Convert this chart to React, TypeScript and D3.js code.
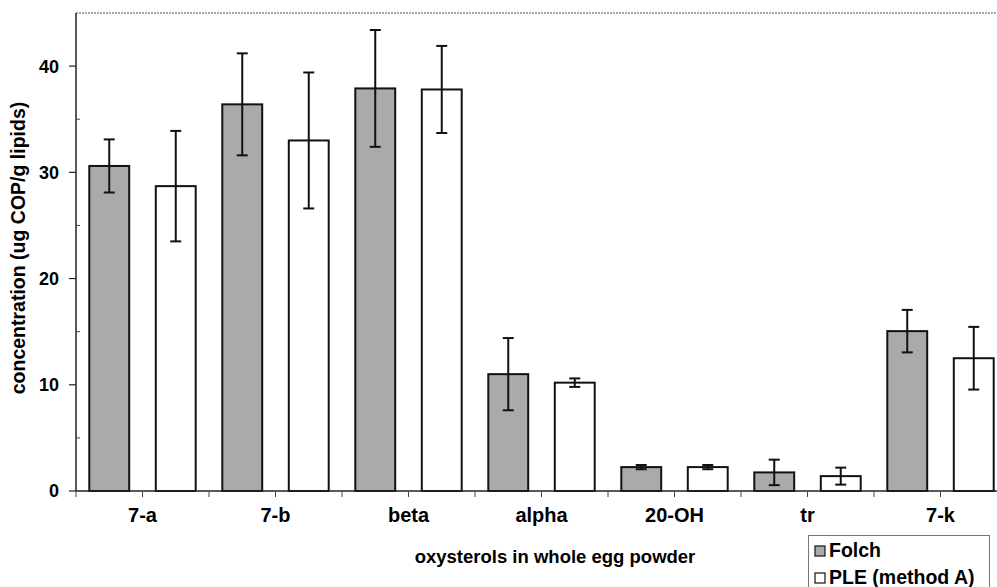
import React from 'react';
import * as d3 from 'd3';

const categories = ['7-a', '7-b', 'beta', 'alpha', '20-OH', 'tr', '7-k'];
const seriesNames = ['Folch', 'PLE (method A)'];
const folchValues = [30.6, 36.4, 37.9, 11.0, 2.25, 1.75, 15.05];
const folchErrors = [2.5, 4.8, 5.5, 3.4, 0.2, 1.2, 2.0];
const pleValues = [28.7, 33.0, 37.8, 10.2, 2.25, 1.4, 12.5];
const pleErrors = [5.2, 6.4, 4.1, 0.4, 0.2, 0.8, 2.95];
const yTicks = [0, 10, 20, 30, 40];
const yMinorTicks = [5, 15, 25, 35];

const W = 997;
const H = 587;
const left = 76;
const right = 1007; // plot runs past the picture edge
const top = 13;
const bottom = 491;

const FONT = '"Liberation Sans", Arial, sans-serif';

const App = () => {
  const x = d3.scaleBand().domain(categories).range([left, right]).padding(0);
  const xs = d3.scaleBand().domain(seriesNames).range([0, x.bandwidth()])
    .paddingInner(0.4).paddingOuter(0.2);
  const y = d3.scaleLinear().domain([0, 45]).range([bottom, top]);

  const fills = ['#aaaaaa', '#ffffff'];
  const values = [folchValues, pleValues];
  const errors = [folchErrors, pleErrors];

  const halfTicks = d3.range(0, categories.length * 2 + 1).map(k => left + k * x.bandwidth() / 2);

  return (
    <svg width={W} height={H} style={{ position: 'absolute', left: 0, top: 0, background: '#fff' }}>
      {/* frame */}
      <line x1={left} x2={W} y1={top} y2={top} stroke="#8a8a8a" strokeWidth={1.5} strokeDasharray="2,1" />

      {/* bars */}
      {seriesNames.map((s, si) => (
        <g key={s}>
          {categories.map((c, ci) => {
            const bx = x(c)! + xs(s)!;
            const v = values[si][ci];
            const e = errors[si][ci];
            const cx = bx + xs.bandwidth() / 2;
            return (
              <g key={c}>
                <rect x={bx} y={y(v)} width={xs.bandwidth()} height={y(0) - y(v)}
                  fill={fills[si]} stroke="#111" strokeWidth={2} />
                <line x1={cx} x2={cx} y1={y(v + e)} y2={y(Math.max(0, v - e))} stroke="#111" strokeWidth={2} />
                <line x1={cx - 5.5} x2={cx + 5.5} y1={y(v + e)} y2={y(v + e)} stroke="#111" strokeWidth={2} />
                <line x1={cx - 5.5} x2={cx + 5.5} y1={y(Math.max(0, v - e))} y2={y(Math.max(0, v - e))} stroke="#111" strokeWidth={2} />
              </g>
            );
          })}
        </g>
      ))}

      {/* y axis */}
      <line x1={left} x2={left} y1={top} y2={bottom} stroke="#222" strokeWidth={1.5} />
      {yTicks.map(t => (
        <g key={t}>
          <line x1={left - 7} x2={left} y1={y(t)} y2={y(t)} stroke="#222" strokeWidth={1.2} />
          <text x={59} y={y(t)} dy="0.36em" textAnchor="end" fontFamily={FONT} fontWeight="bold" fontSize={18}>{t}</text>
        </g>
      ))}
      {yMinorTicks.map(t => (
        <line key={t} x1={left} x2={left + 4} y1={y(t)} y2={y(t)} stroke="#444" strokeWidth={1} />
      ))}

      {/* x axis */}
      <line x1={left} x2={W} y1={bottom} y2={bottom} stroke="#222" strokeWidth={1.5} />
      {halfTicks.map((t, i) => (
        <line key={i} x1={t} x2={t} y1={bottom} y2={bottom + 6} stroke="#444" strokeWidth={1} />
      ))}
      {categories.map(c => (
        <text key={c} x={x(c)! + x.bandwidth() / 2} y={522} textAnchor="middle"
          fontFamily={FONT} fontWeight="bold" fontSize={20}>{c}</text>
      ))}

      <text x={555} y={563} textAnchor="middle" fontFamily={FONT} fontWeight="bold" fontSize={18.5}>
        oxysterols in whole egg powder
      </text>
      <text transform={`translate(25, ${248}) rotate(-90)`} textAnchor="middle"
        fontFamily={FONT} fontWeight="bold" fontSize={19.5}>
        concentration (ug COP/g lipids)
      </text>

      {/* legend */}
      <rect x={808.5} y={535.5} width={181} height={60} fill="#fff" stroke="#777" strokeWidth={1} />
      {seriesNames.map((s, i) => (
        <g key={s}>
          <rect x={815} y={546 + i * 27} width={10} height={10} fill={fills[i]} stroke="#111" strokeWidth={1.2} />
          <text x={829} y={557 + i * 27} fontFamily={FONT} fontWeight="bold" fontSize={19.5}>{s}</text>
        </g>
      ))}
    </svg>
  );
};

export default App;
